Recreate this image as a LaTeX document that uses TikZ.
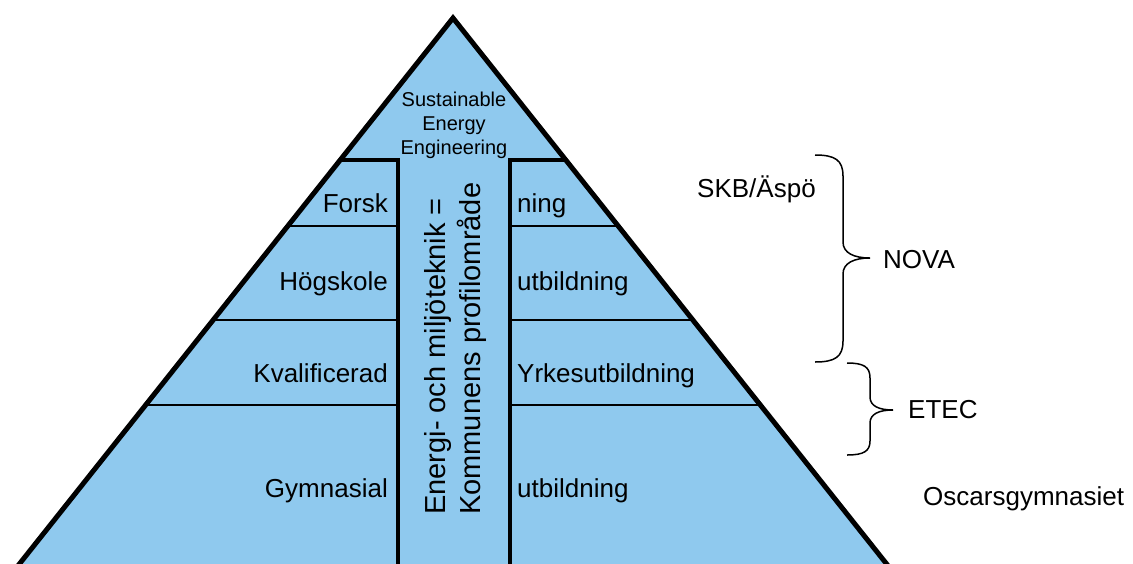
\documentclass[tikz,border=0pt]{standalone}
\usepackage{fontspec}
\setmainfont{Liberation Sans}
\definecolor{pyr}{RGB}{143,201,238}
\tikzset{
  lbl/.style={inner sep=0pt, font=\fontsize{26}{30}\selectfont},
  toplbl/.style={inner sep=0pt, font=\fontsize{20}{24}\selectfont},
  vlbl/.style={inner sep=0pt, rotate=90, anchor=base west, font=\fontsize{29}{34}\selectfont},
  outline/.style={line width=5pt, line join=miter},
  colline/.style={line width=4pt},
  thinline/.style={line width=2pt},
  bracestyle/.style={line width=1.5pt}
}
\begin{document}
\begin{tikzpicture}[x=1pt, y=-1pt]
\useasboundingbox (0,0) rectangle (1133,563);
\clip (0,0) rectangle (1133,563);
% pyramid
\coordinate (apex) at (453,18);
\coordinate (bl) at (-0.5,589);
\coordinate (br) at (906.5,589);
\fill[pyr] (bl) -- (apex) -- (br) -- cycle;
% thin separators
\foreach \yy in {226,320,405}{
  \pgfmathsetmacro{\dx}{0.7945*(\yy-18)}
  \draw[thinline] ({453-\dx},\yy) -- (398,\yy);
  \draw[thinline] (510,\yy) -- ({453+\dx},\yy);
}
% central column
\draw[colline] (340.2,160) -- (398,160) -- (398,600);
\draw[colline] (565.8,160) -- (510,160) -- (510,600);
% outline
\draw[outline] (bl) -- (apex) -- (br);
% top text
\node[toplbl, anchor=base] (t1) at (454,106) {Sustainable};
\node[toplbl, anchor=base] (t2) at (454,130) {Energy};
\node[toplbl, anchor=base] (t3) at (454,154) {Engineering};
% left labels
\node[lbl, anchor=base east] (l1) at (388,212) {Forsk};
\node[lbl, anchor=base east] (l2) at (388,290) {Högskole};
\node[lbl, anchor=base east] (l3) at (388,382) {Kvalificerad};
\node[lbl, anchor=base east] (l4) at (388,497) {Gymnasial};
% right labels
\node[lbl, anchor=base west] (r1) at (517,212) {ning};
\node[lbl, anchor=base west] (r2) at (517,290) {utbildning};
\node[lbl, anchor=base west] (r3) at (517,382) {Yrkesutbildning};
\node[lbl, anchor=base west] (r4) at (517,497) {utbildning};
% vertical text
\node[vlbl] (v1) at (445,515) {Energi- och miljöteknik =};
\node[vlbl] (v2) at (480,515) {Kommunens profilområde};
% braces
\coordinate (n1) at (815,155);
\coordinate (ntip) at (870,258);
\coordinate (n2) at (815,362);
\draw[bracestyle] (n1) .. controls (835,155) and (843,160) .. (843,176)
  -- (843,242) .. controls (843,253) and (854,258) .. (ntip)
  .. controls (854,258) and (843,263) .. (843,274)
  -- (843,341) .. controls (843,357) and (835,362) .. (n2);
\coordinate (e1) at (847,363);
\coordinate (etip) at (893,410);
\coordinate (e2) at (847,455);
\draw[bracestyle] (e1) .. controls (864,363) and (870,367) .. (870,378)
  -- (870,397) .. controls (870,406) and (879,410) .. (etip)
  .. controls (879,410) and (870,414) .. (870,423)
  -- (870,441) .. controls (870,451) and (864,455) .. (e2);
% side labels
\node[lbl, anchor=base west] (skb) at (697,197) {SKB/Äspö};
\node[lbl, anchor=base west] (nova) at (883,268) {NOVA};
\node[lbl, anchor=base west] (etec) at (908,418) {ETEC};
\node[lbl, anchor=base west] (osc) at (923,505) {Oscarsgymnasiet};
\end{tikzpicture}
\end{document}
